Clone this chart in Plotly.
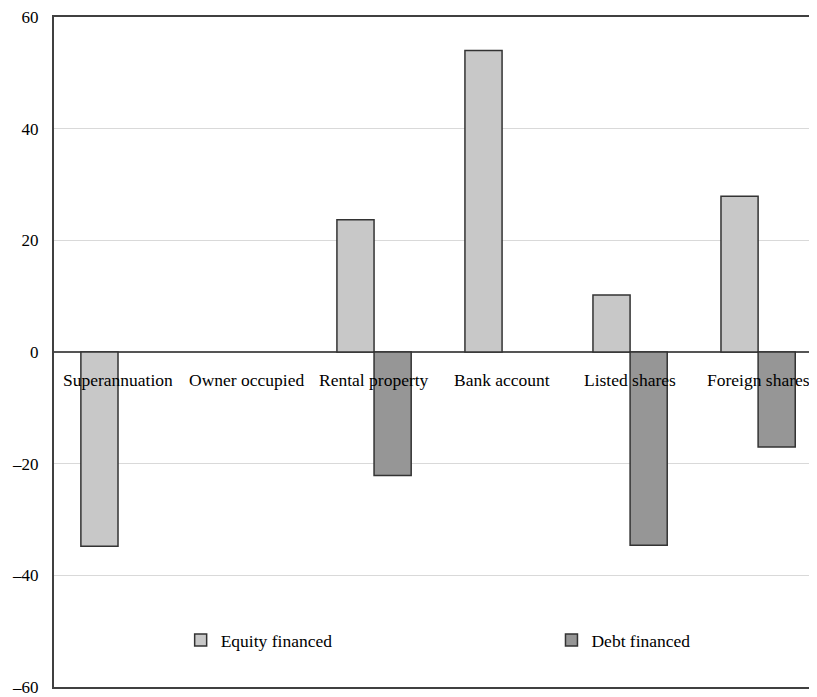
import plotly.graph_objects as go

categories = ["Superannuation", "Owner occupied", "Rental property", "Bank account", "Listed shares", "Foreign shares"]
equity_financed = [-34.8, None, 23.7, 54.0, 10.2, 27.9]
debt_financed = [None, None, -22.1, None, -34.6, -17.0]
y_ticks = [-60, -40, -20, 0, 20, 40, 60]
y_tick_labels = ["\u201360", "\u201340", "\u201320", "0", "20", "40", "60"]

FONT = "Liberation Serif, Times New Roman, serif"

fig = go.Figure()
fig.add_trace(go.Bar(x=categories, y=equity_financed, name="Equity financed", legend="legend",
                     marker=dict(color="#c8c8c8", line=dict(color="#333333", width=1.5))))
fig.add_trace(go.Bar(x=categories, y=debt_financed, name="Debt financed", legend="legend2",
                     marker=dict(color="#969696", line=dict(color="#333333", width=1.5))))

for c in categories:
    fig.add_annotation(x=c, y=0, xref="x", yref="y", text=c, showarrow=False,
                       yanchor="top", yshift=-16, font=dict(family=FONT, size=17.5, color="#000"))

leg_common = dict(y=0.07, xanchor="left", yanchor="middle", itemwidth=30,
                  font=dict(family=FONT, size=17.5, color="#000"), bgcolor="rgba(0,0,0,0)")

fig.update_layout(
    width=809, height=689,
    margin=dict(l=46, r=0, t=8, b=9),
    paper_bgcolor="white", plot_bgcolor="white",
    barmode="group", bargap=0.42, bargroupgap=0,
    font=dict(family=FONT, size=17, color="#000"),
    showlegend=True,
    legend=dict(x=0.166, **leg_common),
    legend2=dict(x=0.652, **leg_common),
    xaxis=dict(range=[-0.5, 5.46], showticklabels=False, ticks="", showgrid=False,
               showline=True, mirror=True, linecolor="#404040", linewidth=2, zeroline=False),
    yaxis=dict(range=[-60, 60], tickvals=y_ticks, ticktext=y_tick_labels, ticks="",
               showgrid=True, gridcolor="#d9d9d9", gridwidth=1,
               zeroline=True, zerolinecolor="#555555", zerolinewidth=1.5,
               showline=True, linecolor="#404040", linewidth=2, mirror=False,
               ticklabeloverflow="allow",
               ticklabelstandoff=10, tickfont=dict(family=FONT, size=17, color="#000")),
)

fig.write_html("out.html")
